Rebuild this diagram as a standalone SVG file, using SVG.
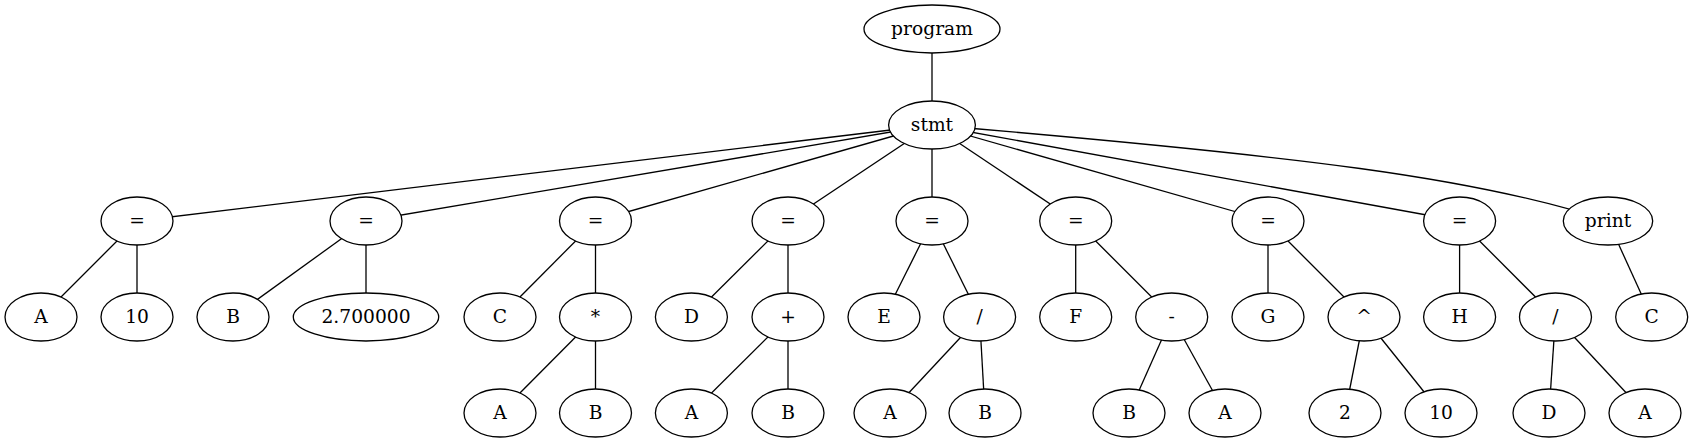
<svg xmlns="http://www.w3.org/2000/svg" width="1693" height="443" viewBox="0 0 1693 443">
<style>
.n ellipse{fill:#fff;stroke:#000;stroke-width:1.3}
.n text{font-family:"DejaVu Serif","Liberation Serif",serif;font-size:18.67px;text-anchor:middle;fill:#000}
#edges line,#edges path{stroke:#000;stroke-width:1.3;fill:none}
</style>
<rect width="1693" height="443" fill="#fff"/>
<g id="edges">
<line x1="932" y1="29" x2="932" y2="125"/>
<line x1="932" y1="125" x2="137" y2="221"/>
<line x1="932" y1="125" x2="366" y2="221"/>
<line x1="932" y1="125" x2="595.5" y2="221"/>
<line x1="932" y1="125" x2="788" y2="221"/>
<line x1="932" y1="125" x2="932" y2="221"/>
<line x1="932" y1="125" x2="1075.7" y2="221"/>
<line x1="932" y1="125" x2="1268" y2="221"/>
<line x1="932" y1="125" x2="1459.6" y2="221"/>
<path d="M932,125 C1300,156 1480,178 1608,221"/>
<line x1="137" y1="221" x2="41" y2="317"/>
<line x1="137" y1="221" x2="137" y2="317"/>
<line x1="366" y1="221" x2="233" y2="317"/>
<line x1="366" y1="221" x2="366" y2="317"/>
<line x1="595.5" y1="221" x2="500" y2="317"/>
<line x1="595.5" y1="221" x2="595.5" y2="317"/>
<line x1="595.5" y1="317" x2="500" y2="413"/>
<line x1="595.5" y1="317" x2="595.5" y2="413"/>
<line x1="788" y1="221" x2="691.4" y2="317"/>
<line x1="788" y1="221" x2="788" y2="317"/>
<line x1="788" y1="317" x2="691.4" y2="413"/>
<line x1="788" y1="317" x2="788" y2="413"/>
<line x1="932" y1="221" x2="884" y2="317"/>
<line x1="932" y1="221" x2="979.6" y2="317"/>
<line x1="979.6" y1="317" x2="890" y2="413"/>
<line x1="979.6" y1="317" x2="985" y2="413"/>
<line x1="1075.7" y1="221" x2="1075.7" y2="317"/>
<line x1="1075.7" y1="221" x2="1171.7" y2="317"/>
<line x1="1171.7" y1="317" x2="1129" y2="413"/>
<line x1="1171.7" y1="317" x2="1225" y2="413"/>
<line x1="1268" y1="221" x2="1268" y2="317"/>
<line x1="1268" y1="221" x2="1364" y2="317"/>
<line x1="1364" y1="317" x2="1345" y2="413"/>
<line x1="1364" y1="317" x2="1441" y2="413"/>
<line x1="1459.6" y1="221" x2="1459.6" y2="317"/>
<line x1="1459.6" y1="221" x2="1555.5" y2="317"/>
<line x1="1555.5" y1="317" x2="1549" y2="413"/>
<line x1="1555.5" y1="317" x2="1645" y2="413"/>
<line x1="1608" y1="221" x2="1651.7" y2="317"/>
</g>
<g id="program" class="n"><ellipse cx="932" cy="29" rx="68" ry="24"/><text x="932" y="34.5">program</text></g>
<g id="stmt" class="n"><ellipse cx="932" cy="125" rx="43.4" ry="24"/><text x="932" y="130.5">stmt</text></g>
<g id="eq1" class="n"><ellipse cx="137" cy="221" rx="36" ry="24"/><text x="137" y="226.5">=</text></g>
<g id="a1" class="n"><ellipse cx="41" cy="317" rx="36" ry="24"/><text x="41" y="322.5">A</text></g>
<g id="n10a" class="n"><ellipse cx="137" cy="317" rx="36" ry="24"/><text x="137" y="322.5">10</text></g>
<g id="eq2" class="n"><ellipse cx="366" cy="221" rx="36" ry="24"/><text x="366" y="226.5">=</text></g>
<g id="b1" class="n"><ellipse cx="233" cy="317" rx="36" ry="24"/><text x="233" y="322.5">B</text></g>
<g id="f27" class="n"><ellipse cx="366" cy="317" rx="72.7" ry="24"/><text x="366" y="322.5">2.700000</text></g>
<g id="eq3" class="n"><ellipse cx="595.5" cy="221" rx="36" ry="24"/><text x="595.5" y="226.5">=</text></g>
<g id="c1" class="n"><ellipse cx="500" cy="317" rx="36" ry="24"/><text x="500" y="322.5">C</text></g>
<g id="mul" class="n"><ellipse cx="595.5" cy="317" rx="36" ry="24"/><text x="595.5" y="322.5">*</text></g>
<g id="a2" class="n"><ellipse cx="500" cy="413" rx="36" ry="24"/><text x="500" y="418.5">A</text></g>
<g id="b2" class="n"><ellipse cx="595.5" cy="413" rx="36" ry="24"/><text x="595.5" y="418.5">B</text></g>
<g id="eq4" class="n"><ellipse cx="788" cy="221" rx="36" ry="24"/><text x="788" y="226.5">=</text></g>
<g id="d1" class="n"><ellipse cx="691.4" cy="317" rx="36" ry="24"/><text x="691.4" y="322.5">D</text></g>
<g id="plus" class="n"><ellipse cx="788" cy="317" rx="36" ry="24"/><text x="788" y="322.5">+</text></g>
<g id="a3" class="n"><ellipse cx="691.4" cy="413" rx="36" ry="24"/><text x="691.4" y="418.5">A</text></g>
<g id="b3" class="n"><ellipse cx="788" cy="413" rx="36" ry="24"/><text x="788" y="418.5">B</text></g>
<g id="eq5" class="n"><ellipse cx="932" cy="221" rx="36" ry="24"/><text x="932" y="226.5">=</text></g>
<g id="e1" class="n"><ellipse cx="884" cy="317" rx="36" ry="24"/><text x="884" y="322.5">E</text></g>
<g id="div1" class="n"><ellipse cx="979.6" cy="317" rx="36" ry="24"/><text x="979.6" y="322.5">/</text></g>
<g id="a4" class="n"><ellipse cx="890" cy="413" rx="36" ry="24"/><text x="890" y="418.5">A</text></g>
<g id="b4" class="n"><ellipse cx="985" cy="413" rx="36" ry="24"/><text x="985" y="418.5">B</text></g>
<g id="eq6" class="n"><ellipse cx="1075.7" cy="221" rx="36" ry="24"/><text x="1075.7" y="226.5">=</text></g>
<g id="f1" class="n"><ellipse cx="1075.7" cy="317" rx="36" ry="24"/><text x="1075.7" y="322.5">F</text></g>
<g id="minus" class="n"><ellipse cx="1171.7" cy="317" rx="36" ry="24"/><text x="1171.7" y="322.5">-</text></g>
<g id="b5" class="n"><ellipse cx="1129" cy="413" rx="36" ry="24"/><text x="1129" y="418.5">B</text></g>
<g id="a5" class="n"><ellipse cx="1225" cy="413" rx="36" ry="24"/><text x="1225" y="418.5">A</text></g>
<g id="eq7" class="n"><ellipse cx="1268" cy="221" rx="36" ry="24"/><text x="1268" y="226.5">=</text></g>
<g id="g1" class="n"><ellipse cx="1268" cy="317" rx="36" ry="24"/><text x="1268" y="322.5">G</text></g>
<g id="pow" class="n"><ellipse cx="1364" cy="317" rx="36" ry="24"/><text x="1364" y="322.5">^</text></g>
<g id="n2" class="n"><ellipse cx="1345" cy="413" rx="36" ry="24"/><text x="1345" y="418.5">2</text></g>
<g id="n10b" class="n"><ellipse cx="1441" cy="413" rx="36" ry="24"/><text x="1441" y="418.5">10</text></g>
<g id="eq8" class="n"><ellipse cx="1459.6" cy="221" rx="36" ry="24"/><text x="1459.6" y="226.5">=</text></g>
<g id="h1" class="n"><ellipse cx="1459.6" cy="317" rx="36" ry="24"/><text x="1459.6" y="322.5">H</text></g>
<g id="div2" class="n"><ellipse cx="1555.5" cy="317" rx="36" ry="24"/><text x="1555.5" y="322.5">/</text></g>
<g id="d2" class="n"><ellipse cx="1549" cy="413" rx="36" ry="24"/><text x="1549" y="418.5">D</text></g>
<g id="a6" class="n"><ellipse cx="1645" cy="413" rx="36" ry="24"/><text x="1645" y="418.5">A</text></g>
<g id="print" class="n"><ellipse cx="1608" cy="221" rx="44.7" ry="24"/><text x="1608" y="226.5">print</text></g>
<g id="c2" class="n"><ellipse cx="1651.7" cy="317" rx="36" ry="24"/><text x="1651.7" y="322.5">C</text></g>
</svg>
